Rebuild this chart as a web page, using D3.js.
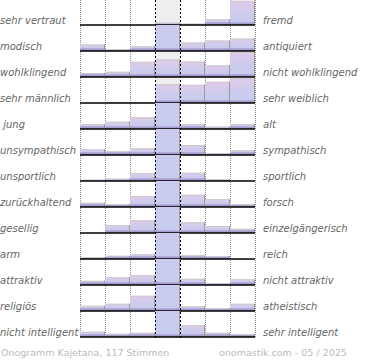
<!DOCTYPE html>
<html><head><meta charset="utf-8">
<script src="https://cdn.jsdelivr.net/npm/d3@7"></script>
<style>body{margin:0;background:#fff}svg{display:block}</style>
</head><body>
<script>
const leftLabels = ["sehr vertraut","modisch","wohlklingend","sehr männlich"," jung","unsympathisch","unsportlich","zurückhaltend","gesellig","arm","attraktiv","religiös","nicht intelligent"];
const rightLabels = ["fremd","antiquiert","nicht wohlklingend","sehr weiblich","alt","sympathisch","sportlich","forsch","einzelgängerisch","reich","nicht attraktiv","atheistisch","sehr intelligent"];
const columns = [1,2,3,4,5,6,7];
// bar heights, 100 = full row (values above 100 are cut off at the row top)
const values = [
  [0, 0, 0, 9, 5, 23, 97],
  [26, 8, 20, 260, 34, 42, 50],
  [16, 21, 61, 71, 62, 47, 100],
  [0, 3, 4, 76, 73, 85, 99],
  [20, 29, 47, 300, 20, 9, 20],
  [23, 15, 27, 300, 40, 7, 19],
  [5, 9, 32, 300, 33, 8, 0],
  [17, 12, 44, 300, 49, 32, 11],
  [0, 32, 51, 300, 43, 28, 17],
  [8, 13, 19, 300, 15, 12, 0],
  [17, 31, 39, 300, 25, 7, 23],
  [21, 29, 61, 300, 19, 12, 29],
  [21, 13, 17, 300, 48, 17, 12]
];
const footerLeft = "Onogramm Kajetana, 117 Stimmen";
const footerRight = "onomastik.com - 05 / 2025";

const W = 370, H = 360;
const svg = d3.select("body").append("svg").attr("width", W).attr("height", H);
const defs = svg.append("defs");
const grad = defs.append("linearGradient").attr("id","barGrad")
  .attr("x1",0).attr("y1",0).attr("x2",0).attr("y2",1);
grad.append("stop").attr("offset","0%").attr("stop-color","#e0cbe8");
grad.append("stop").attr("offset","55%").attr("stop-color","#cccbee");
grad.append("stop").attr("offset","100%").attr("stop-color","#c6ccef");
const sgrad = defs.append("linearGradient").attr("id","stripGrad")
  .attr("x1",0).attr("y1",0).attr("x2",0).attr("y2",1);
sgrad.append("stop").attr("offset","0%").attr("stop-color","#b8b0dd");
sgrad.append("stop").attr("offset","100%").attr("stop-color","#978dc4");

const x = d3.scaleBand().domain(columns).range([80, 255]).padding(0);
const rowIdx = d3.range(leftLabels.length);
const yBase = d3.scaleLinear().domain([0, leftLabels.length - 1]).range([25, 337]);
const rowH = 26;
const h = d3.scaleLinear().domain([0, 100]).range([0, 25]);

// center column background
svg.append("rect").attr("x", x(4)).attr("y", 0).attr("width", x.bandwidth())
  .attr("height", yBase(12)).attr("fill", "#eeeeee");

// dotted column separators
const sepX = [80, 105, 130, 205, 230, 255];
svg.selectAll("line.dot").data(sepX).join("line")
  .attr("x1", d => d + 0.5).attr("x2", d => d + 0.5)
  .attr("y1", 0).attr("y2", 338)
  .attr("stroke", "#8a8a8a").attr("stroke-width", 1).attr("stroke-dasharray", "1,1");

rowIdx.forEach(i => {
  const base = yBase(i);
  defs.append("clipPath").attr("id", "clip" + i)
    .append("rect").attr("x", 75).attr("y", base - rowH).attr("width", 190).attr("height", rowH);
  const g = svg.append("g").attr("clip-path", `url(#clip${i})`);
  const data = columns.map((c, j) => ({c, v: values[i][j]})).filter(d => d.v > 0);
  g.selectAll("rect.bar").data(data).join("rect")
    .attr("x", d => x(d.c)).attr("y", d => base - h(d.v))
    .attr("width", x.bandwidth()).attr("height", d => h(d.v))
    .attr("fill", "url(#barGrad)");
  g.selectAll("rect.strip").data(data).join("rect")
    .attr("x", d => x(d.c)).attr("y", d => base - Math.min(3, h(d.v)))
    .attr("width", x.bandwidth()).attr("height", d => Math.min(3, h(d.v)))
    .attr("fill", "url(#stripGrad)");
  g.selectAll("line.top").data(data).join("line")
    .attr("x1", d => x(d.c)).attr("x2", d => x(d.c) + x.bandwidth())
    .attr("y1", d => base - h(d.v) + 0.5).attr("y2", d => base - h(d.v) + 0.5)
    .attr("stroke", "#cccccc");
  g.selectAll("line.edge").data(data).join("line")
    .attr("x1", d => x(d.c) + x.bandwidth() - 0.5).attr("x2", d => x(d.c) + x.bandwidth() - 0.5)
    .attr("y1", d => base - h(d.v)).attr("y2", base)
    .attr("stroke", "#9a9a9a");
  svg.append("line").attr("x1", 80).attr("x2", 255)
    .attr("y1", base).attr("y2", base).attr("stroke", "#000").attr("stroke-width", 1.6);
});

// dashed center lines
[x(4), x(5)].forEach(px => {
  svg.append("line").attr("x1", px + 0.5).attr("x2", px + 0.5).attr("y1", 0).attr("y2", 338)
    .attr("stroke", "#000").attr("stroke-width", 1).attr("stroke-dasharray", "2,2");
});

const font = "'DejaVu Sans', Verdana, sans-serif";
svg.selectAll("text.left").data(rowIdx).join("text")
  .attr("x", 0).attr("y", i => yBase(i) - 1)
  .attr("font-family", font).attr("font-size", 10).attr("font-style", "italic")
  .attr("fill", "#666").attr("xml:space", "preserve").style("white-space", "pre")
  .text(i => leftLabels[i]);
svg.selectAll("text.right").data(rowIdx).join("text")
  .attr("x", 263).attr("y", i => yBase(i) - 1)
  .attr("font-family", font).attr("font-size", 10).attr("font-style", "italic")
  .attr("fill", "#666")
  .text(i => rightLabels[i]);

svg.append("text").attr("x", 1).attr("y", 356).attr("font-family", font).attr("font-size", 9.5)
  .attr("fill", "#bbbbbb").text(footerLeft);
svg.append("text").attr("x", 219).attr("y", 356).attr("font-family", font).attr("font-size", 9.5)
  .attr("fill", "#bbbbbb").text(footerRight);
</script>
</body></html>
